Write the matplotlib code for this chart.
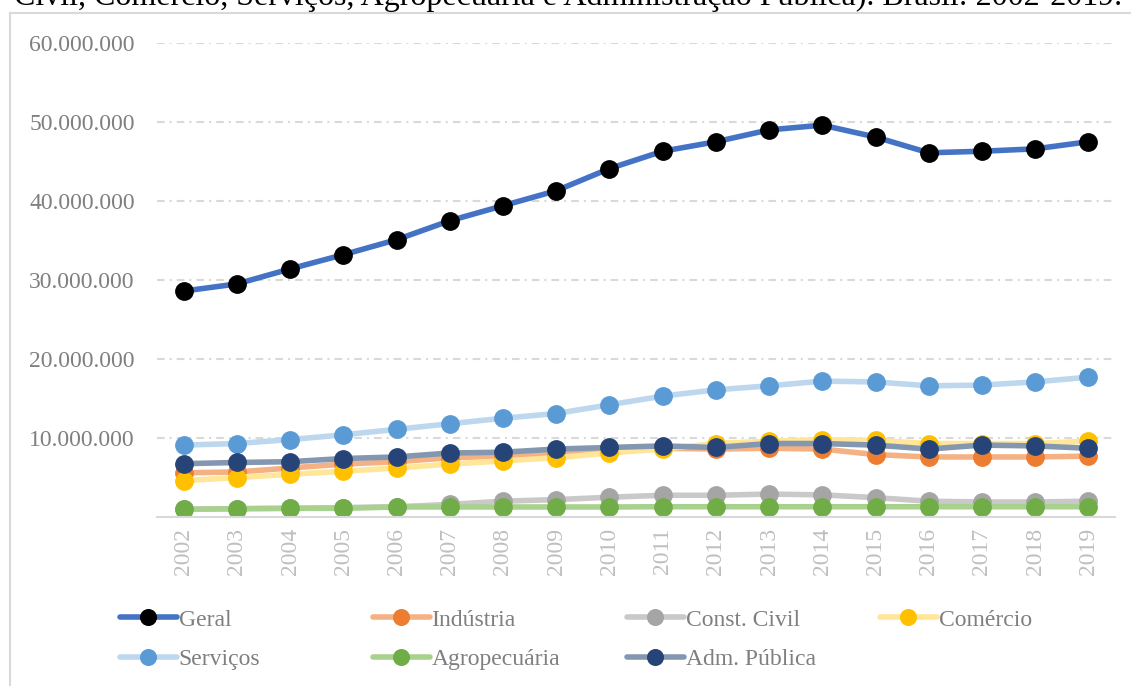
import matplotlib
matplotlib.use("Agg")
import matplotlib.pyplot as plt
from matplotlib.lines import Line2D
from matplotlib.ticker import FuncFormatter

years = [str(y) for y in range(2002, 2020)]

geral = [28.6, 29.5, 31.4, 33.2, 35.1, 37.5, 39.4, 41.3, 44.1, 46.3, 47.5, 49.0, 49.6, 48.1, 46.1, 46.3, 46.6, 47.5]
industria = [5.6, 5.7, 6.2, 6.7, 7.0, 7.5, 7.7, 8.1, 8.4, 8.7, 8.6, 8.7, 8.6, 7.9, 7.6, 7.6, 7.6, 7.7]
const_civil = [1.0, 1.05, 1.1, 1.2, 1.3, 1.6, 2.0, 2.2, 2.5, 2.75, 2.75, 2.9, 2.8, 2.45, 2.0, 1.9, 1.9, 2.0]
comercio = [4.6, 5.0, 5.4, 5.8, 6.2, 6.7, 7.1, 7.5, 8.1, 8.6, 9.3, 9.6, 9.8, 9.7, 9.3, 9.3, 9.3, 9.6]
servicos = [9.1, 9.3, 9.8, 10.4, 11.1, 11.8, 12.5, 13.1, 14.2, 15.3, 16.1, 16.6, 17.2, 17.1, 16.6, 16.7, 17.1, 17.7]
agro = [0.97, 1.05, 1.1, 1.1, 1.27, 1.27, 1.27, 1.27, 1.27, 1.3, 1.3, 1.3, 1.3, 1.3, 1.3, 1.3, 1.3, 1.3]
adm = [6.75, 6.9, 7.0, 7.4, 7.6, 8.1, 8.2, 8.6, 8.8, 9.0, 8.8, 9.3, 9.3, 9.1, 8.6, 9.1, 9.0, 8.7]

labels = ["Geral", "Indústria", "Const. Civil", "Comércio", "Serviços", "Agropecuária", "Adm. Pública"]
series = [geral, industria, const_civil, comercio, servicos, agro, adm]
line_colors = ["#4472C4", "#F4B183", "#C9C9C9", "#FFE699", "#BDD7EE", "#A9D18E", "#8497B0"]
marker_colors = ["#000000", "#ED7D31", "#A5A5A5", "#FFC000", "#5B9BD5", "#70AD47", "#264478"]

title_text = "Civil, Comércio, Serviços, Agropecuária e Administração Pública). Brasil: 2002-2019."

plt.rcParams['font.family'] = ['Liberation Serif', 'DejaVu Serif']
plt.rcParams['lines.scale_dashes'] = False

W, H = 1131, 686
fig = plt.figure(figsize=(W / 100, H / 100), dpi=100)

def fx(px):
    return px / W

def fy(py):
    return 1 - py / H

# chart frame (left and top edges visible)
fig.add_artist(Line2D([fx(10), fx(10)], [fy(13), 0], color="#D9D9D9", lw=1.5, transform=fig.transFigure))
fig.add_artist(Line2D([fx(10), 1], [fy(13), fy(13)], color="#D9D9D9", lw=1.5, transform=fig.transFigure))

# cut-off caption at the top
fig.text(fx(14), fy(5), title_text, fontsize=23, color="black", va="baseline", ha="left")

ax = fig.add_axes([fx(157), fy(517), fx(1115) - fx(157), fy(43) - fy(517)])

x = list(range(len(years)))
handles = []
for vals, lab, lc, mc in zip(series, labels, line_colors, marker_colors):
    v = [val * 1e6 for val in vals]
    h, = ax.plot(x, v, color=lc, lw=4.0, marker="o", markersize=12.5,
                 markerfacecolor=mc, markeredgecolor=mc, label=lab,
                 solid_capstyle="round", solid_joinstyle="round")
    handles.append(h)

ax.set_xlim(-0.5, len(years) - 0.5)
ax.set_ylim(0, 60e6)
ax.set_yticks([10e6, 20e6, 30e6, 40e6, 50e6, 60e6])
ax.yaxis.set_major_formatter(FuncFormatter(lambda v, p: f"{int(v):,}".replace(",", ".")))
ax.set_xticks(x)
ax.set_xticklabels(years, rotation=90)
ax.tick_params(axis="y", length=0, pad=16, labelsize=17, labelcolor="#7F7F7F")
ax.tick_params(axis="x", length=0, pad=8, labelsize=17, labelcolor="#BFBFBF")
ax.grid(axis="y", color="#D9D9D9", lw=1.5, linestyle=(0, (5.5, 3.6, 1.5, 3.6)))
ax.set_axisbelow(True)
for s in ["top", "right", "left"]:
    ax.spines[s].set_visible(False)
ax.spines["bottom"].set_color("#D9D9D9")
ax.spines["bottom"].set_linewidth(1.5)

# legend: 4 columns placed explicitly, row-major order
col_x = [120, 373, 627, 880]
cols = [[0, 4], [1, 5], [2, 6], [3]]
for cx, idxs in zip(col_x, cols):
    fig.legend([handles[i] for i in idxs], [labels[i] for i in idxs],
               loc="upper left", bbox_to_anchor=(fx(cx), fy(609)),
               frameon=False, fontsize=17, labelcolor="#7F7F7F",
               handlelength=2.4, handletextpad=0.08, borderpad=0,
               borderaxespad=0, labelspacing=0.76, markerscale=0.9)

fig.savefig("out.png", dpi=100)
